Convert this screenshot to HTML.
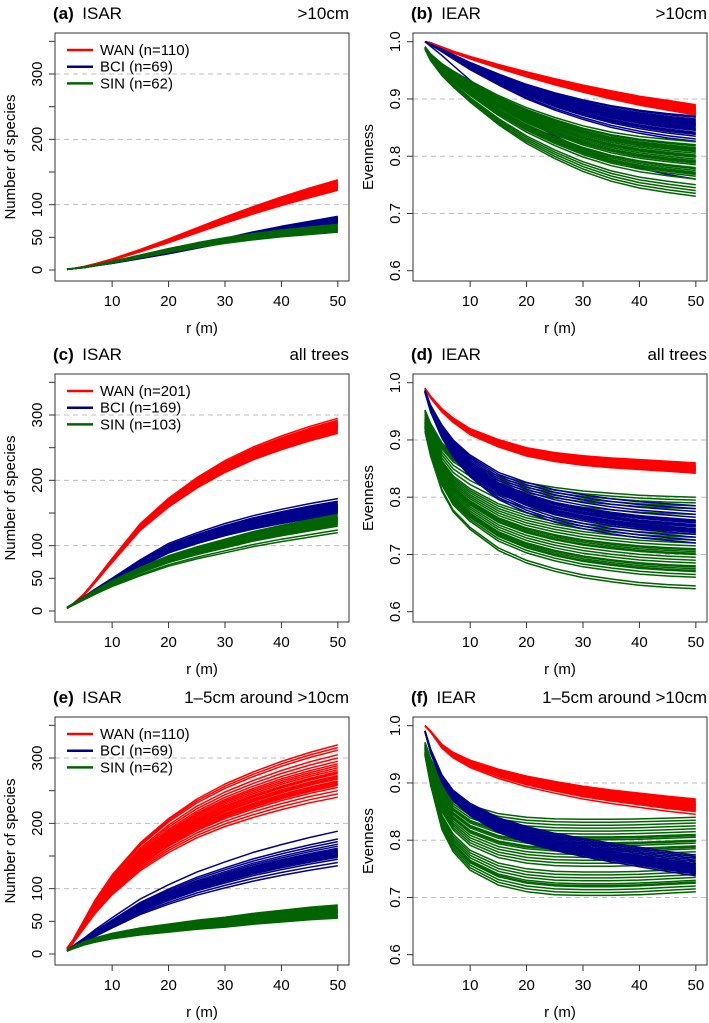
<!DOCTYPE html>
<html><head><meta charset="utf-8"><style>
body{margin:0;background:#fff;}
svg{display:block;font-family:"Liberation Sans",sans-serif;}
</style></head><body>
<svg id="fig" width="709" height="1023" viewBox="0 0 709 1023" xmlns="http://www.w3.org/2000/svg"></svg>
<script>
const radii=[2,3,5,7,10,15,20,25,30,35,40,45,50];
// Panel (a) ISAR >10cm
const aWAN=[1,2,5,9,16,30,45,61,77,92,106,119,131];
const aWANends=[122,123,124,125,126,127,128,129,130,130,131,132,133,134,135,136,137,138,126,129,131,127,133];
const aBCI=[1,2,4,7,11,19,27,36,45,54,62,69,76];
const aBCIends=[70,71,72,73,74,75,75,76,77,78,79,80,81,82,74,76,78,72,80];
const aSIN=[1,2,4,7,12,21,30,38,45,51,56,60,64];
const aSINends=[58,59,60,61,62,63,64,65,66,67,68,70,62,64,60,66];
// Panel (b) IEAR >10cm
const bWAN=[1,0.998,0.99,0.982,0.972,0.957,0.943,0.93,0.918,0.907,0.897,0.889,0.881];
const bWANends=[0.872,0.874,0.876,0.878,0.88,0.882,0.884,0.886,0.888,0.89,0.877,0.883,0.873,0.875,0.879,0.881,0.885,0.887];
const bBCI=[1,0.995,0.985,0.974,0.958,0.935,0.914,0.897,0.883,0.871,0.862,0.855,0.85];
const bBCIends=[0.835,0.84,0.845,0.85,0.855,0.86,0.865,0.87,0.842,0.848,0.852,0.858,0.862,0.868,0.83,0.826,0.76,0.838,0.846,0.854,0.857,0.864];
const bSIN=[0.99,0.975,0.955,0.94,0.92,0.89,0.865,0.845,0.828,0.815,0.806,0.8,0.795];
const bSINends=[0.73,0.735,0.74,0.745,0.75,0.76,0.765,0.77,0.775,0.78,0.785,0.79,0.795,0.8,0.805,0.81,0.815,0.82,0.825,0.772,0.788,0.798,0.808,0.812,0.818,0.778,0.768,0.792,0.802,0.814];
// Panel (c) ISAR all trees
const cWAN=[4,10,25,45,77,128,165,195,220,240,256,270,282];
const cWANends=[272,274,276,278,280,281,282,283,284,285,286,287,288,289,290,292,295,279,283,277,281,285];
const cBCI=[5,10,20,31,46,72,95,110,123,134,143,151,158];
const cBCIends=[148,150,152,154,156,157,158,159,160,161,162,163,164,166,168,172,155,160,151,153,157];
const cSIN=[5,10,20,30,44,63,80,93,104,115,124,132,140];
const cSINends=[120,124,130,132,134,136,138,140,142,144,146,148,137,141,135,139,143];
// Panel (d) IEAR all trees
const dWAN=[0.99,0.975,0.952,0.935,0.915,0.895,0.88,0.871,0.865,0.861,0.858,0.855,0.852];
const dWANends=[0.842,0.844,0.846,0.848,0.85,0.852,0.854,0.856,0.858,0.86,0.849,0.853,0.845,0.847,0.851,0.855];
const dBCI=[0.985,0.955,0.915,0.885,0.855,0.82,0.8,0.785,0.775,0.767,0.761,0.757,0.753];
const dBCIends=[0.72,0.725,0.73,0.735,0.74,0.745,0.75,0.755,0.76,0.765,0.77,0.775,0.78,0.785,0.742,0.748,0.752,0.758,0.738,0.744,0.75,0.756];
const dSIN=[0.93,0.895,0.845,0.815,0.79,0.76,0.742,0.73,0.721,0.715,0.71,0.707,0.705];
const dSINends=[0.64,0.645,0.66,0.665,0.67,0.675,0.68,0.685,0.69,0.695,0.7,0.705,0.71,0.72,0.73,0.74,0.75,0.76,0.77,0.78,0.785,0.79,0.795,0.8,0.715,0.725,0.735,0.672,0.678,0.702,0.708];
// Panel (e) ISAR 1-5cm around >10cm
const eWAN=[8,18,45,72,105,148,180,206,226,242,256,268,278];
const eWANends=[240,245,250,255,258,262,265,268,270,273,276,279,282,285,288,291,295,300,305,312,316,320,260,264,272,278];
const eBCI=[5,10,20,31,46,70,88,104,117,129,139,148,156];
const eBCIends=[135,140,145,148,150,152,154,156,158,160,162,165,168,172,176,188,151,153,155,157,159];
const eSIN=[5,9,16,21,27,34,39,44,48,53,57,61,64];
const eSINends=[55,56,58,60,62,63,64,65,66,67,68,70,72,74,75,57,59,61,69];
// Panel (f) IEAR 1-5cm around >10cm
const fWAN=[1,0.99,0.965,0.95,0.935,0.918,0.905,0.895,0.886,0.879,0.873,0.867,0.862];
const fWANends=[0.845,0.85,0.852,0.855,0.858,0.86,0.862,0.864,0.866,0.868,0.87,0.872,0.856,0.862,0.853,0.857,0.861,0.865];
const fBCI=[0.99,0.955,0.905,0.875,0.85,0.822,0.805,0.792,0.782,0.773,0.765,0.757,0.75];
const fBCIends=[0.738,0.741,0.744,0.747,0.75,0.753,0.756,0.759,0.762,0.765,0.768,0.771,0.774,0.745,0.755,0.742,0.748,0.752,0.758];
const fSIN=[0.96,0.92,0.86,0.83,0.805,0.785,0.776,0.772,0.771,0.771,0.772,0.774,0.776];
const fSINends=[0.71,0.715,0.72,0.725,0.73,0.735,0.74,0.75,0.76,0.77,0.775,0.78,0.785,0.79,0.795,0.8,0.805,0.81,0.815,0.82,0.825,0.83,0.835,0.84,0.727,0.745,0.765,0.788,0.798,0.808];

const ticksSpecies=[0,50,100,150,200,250,300,350];
const labelsSpecies=["0","50","100","","200","","300",""];
const gridSpecies=[100,200,300];
const ticksEven=[0.6,0.7,0.8,0.9,1.0];
const labelsEven=["0.6","0.7","0.8","0.9","1.0"];
const gridEven=[0.7,0.8,0.9];
const ticksX=[10,20,30,40,50];

const NS="http://www.w3.org/2000/svg";
const svg=document.getElementById('fig');
function mk(tag,attrs,parent,text){const e=document.createElementNS(NS,tag);for(const k in attrs)e.setAttribute(k,attrs[k]);if(text!==undefined)e.textContent=text;(parent||svg).appendChild(e);return e;}
const COL={WAN:"#ff0000",BCI:"#00008b",SIN:"#006400"};

const panels=[
 {id:"a",kind:"ISAR",sub:">10cm",col:0,row:0,series:[["WAN",aWAN,aWANends],["BCI",aBCI,aBCIends],["SIN",aSIN,aSINends]],legend:["WAN (n=110)","BCI (n=69)","SIN (n=62)"]},
 {id:"b",kind:"IEAR",sub:">10cm",col:1,row:0,series:[["WAN",bWAN,bWANends],["BCI",bBCI,bBCIends],["SIN",bSIN,bSINends]]},
 {id:"c",kind:"ISAR",sub:"all trees",col:0,row:1,series:[["WAN",cWAN,cWANends],["BCI",cBCI,cBCIends],["SIN",cSIN,cSINends]],legend:["WAN (n=201)","BCI (n=169)","SIN (n=103)"]},
 {id:"d",kind:"IEAR",sub:"all trees",col:1,row:1,series:[["WAN",dWAN,dWANends],["SIN",dSIN,dSINends],["BCI",dBCI,dBCIends]]},
 {id:"e",kind:"ISAR",sub:"1\u20135cm around >10cm",col:0,row:2,series:[["WAN",eWAN,eWANends],["BCI",eBCI,eBCIends],["SIN",eSIN,eSINends]],legend:["WAN (n=110)","BCI (n=69)","SIN (n=62)"]},
 {id:"f",kind:"IEAR",sub:"1\u20135cm around >10cm",col:1,row:2,series:[["WAN",fWAN,fWANends],["SIN",fSIN,fSINends],["BCI",fBCI,fBCIends]]}
];
const rowOff=[0,341,684];

panels.forEach(p=>{
  const dx=p.col*358, dy=rowOff[p.row];
  const L=55+dx,R=349+dx,T=33+dy,B=281+dy;
  const xs=r=>(67+dx)+(r-2)*(337.7-112)/40;
  let ys;
  if(p.kind==="ISAR") ys=v=>(270+dy)-v*0.6533; else ys=v=>(41.7+dy)+(1-v)*572.5;
  const g=mk('g',{});
  
  
  const t=mk('text',{x:L-2,y:19+dy,'font-size':17,fill:'#000'},g);
  
  
  mk('tspan',{'font-weight':'bold'},t,'('+p.id+')');
  mk('tspan',{},t,'\u2002'+p.kind);
  const st=mk('text',{x:R,y:19+dy,'font-size':17,'text-anchor':'end'},g,p.sub);
  
  
  const grid=p.kind==="ISAR"?gridSpecies:gridEven;
  grid.forEach(v=>{const l=mk('line',{x1:L,x2:R,y1:ys(v),y2:ys(v),stroke:'#bdbdbd','stroke-dasharray':'5,4','stroke-width':1},g);
    
    });
  const sg=mk('g',{fill:'none','stroke-width':1.5,'stroke-linejoin':'round'},g);
  p.series.forEach(([name,base,ends])=>{
    const bEnd=base[base.length-1];
    ends.forEach(en=>{
      const pts=radii.map((r,i)=>{
        let v;
        if(p.kind==="ISAR") v=base[i]*en/bEnd;
        else v=1-(1-base[i])*(1-en)/(1-bEnd);
        return xs(r).toFixed(1)+','+ys(v).toFixed(1);
      });
      const pl=mk('polyline',{points:pts.join(' '),stroke:COL[name]},sg);
      
      
    });
  });
  const box=mk('rect',{x:L,y:T,width:R-L,height:B-T,fill:'none',stroke:'#333','stroke-width':1},g);
  
  
  const yt=p.kind==="ISAR"?ticksSpecies:ticksEven;
  const yl=p.kind==="ISAR"?labelsSpecies:labelsEven;
  yt.forEach((v,i)=>{
    const y=ys(v);
    const tk=mk('line',{x1:L-6,x2:L,y1:y,y2:y,stroke:'#333'},g);
    
    
    if(yl[i]){const tl=mk('text',{x:0,y:0,'font-size':15,'text-anchor':'middle',transform:'translate('+(L-13)+','+y+') rotate(-90)'},g,yl[i]);
      
      }
  });
  const ytitle=mk('text',{'font-size':15,'text-anchor':'middle',transform:'translate('+(L-40)+','+((T+B)/2)+') rotate(-90)'},g,p.kind==="ISAR"?"Number of species":"Evenness");
  
  
  ticksX.forEach(v=>{
    const x=xs(v);
    const tk=mk('line',{x1:x,x2:x,y1:B,y2:B+6,stroke:'#333'},g);
    
    
    const tl=mk('text',{x:x,y:B+25,'font-size':15,'text-anchor':'middle'},g,String(v));
    
    
  });
  const xtitle=mk('text',{x:(L+R)/2,y:B+52,'font-size':15,'text-anchor':'middle'},g,"r (m)");
  
  
  if(p.legend){
    const names=["WAN","BCI","SIN"];
    p.legend.forEach((lab,i)=>{
      const y=50+dy+i*16.7;
      const lg=mk('g',{},g);
      
      
      mk('line',{x1:67+dx,x2:93+dx,y1:y,y2:y,stroke:COL[names[i]],'stroke-width':2.5},lg);
      mk('text',{x:100+dx,y:y+5,'font-size':15},lg,lab);
    });
  }
});
</script>
</body></html>
